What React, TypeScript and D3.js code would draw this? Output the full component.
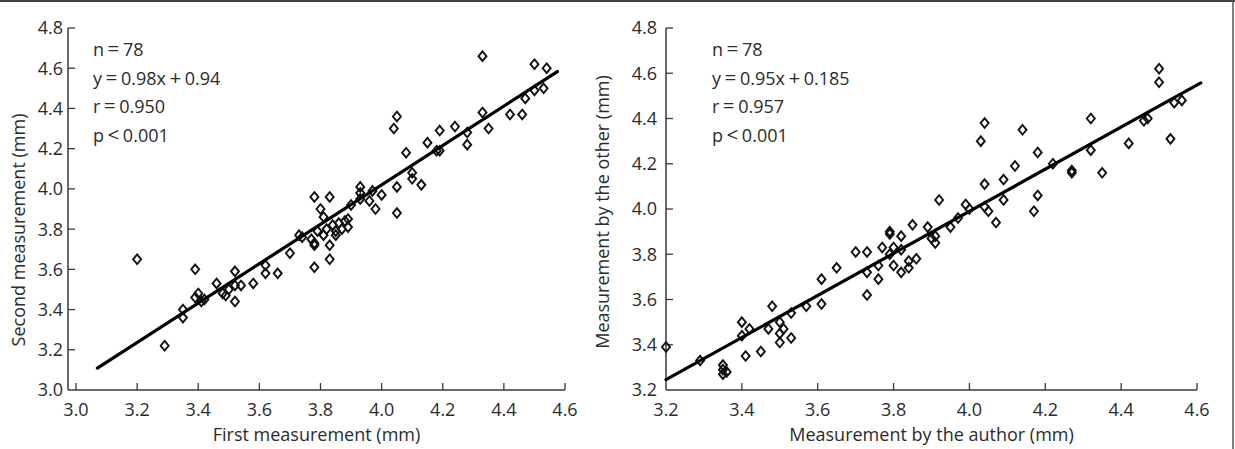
import React from "react";
import * as d3 from "d3";

// ---------- data ----------
const leftFirst = [3.2, 3.29, 3.35, 3.35, 3.39, 3.4, 3.39, 3.42, 3.46, 3.48, 3.49, 3.52, 3.52, 3.52, 3.54, 3.58, 3.62, 3.62, 3.66, 3.7, 3.73, 3.77, 3.78, 3.78, 3.83, 3.83, 3.78, 3.81, 3.85, 3.89, 3.89, 3.86, 3.79, 3.78, 3.83, 3.8, 3.81, 3.84, 3.87, 3.93, 3.93, 3.93, 3.96, 3.98, 4.0, 4.05, 4.05, 4.1, 4.1, 4.13, 4.04, 4.05, 4.08, 4.15, 4.18, 4.19, 4.24, 4.28, 4.28, 4.33, 4.35, 4.33, 4.42, 4.46, 4.47, 4.5, 4.53, 4.5, 4.54, 3.41, 3.5, 3.74, 3.85, 3.9, 4.19, 3.97, 3.82, 3.88];
const leftSecond = [3.65, 3.22, 3.4, 3.36, 3.6, 3.48, 3.46, 3.45, 3.53, 3.48, 3.47, 3.59, 3.44, 3.52, 3.52, 3.53, 3.62, 3.58, 3.58, 3.68, 3.77, 3.75, 3.73, 3.61, 3.65, 3.72, 3.72, 3.77, 3.77, 3.81, 3.85, 3.83, 3.79, 3.96, 3.96, 3.9, 3.86, 3.82, 3.8, 4.01, 3.98, 3.95, 3.94, 3.9, 3.97, 3.88, 4.01, 4.08, 4.05, 4.02, 4.3, 4.36, 4.18, 4.23, 4.19, 4.29, 4.31, 4.28, 4.22, 4.38, 4.3, 4.66, 4.37, 4.37, 4.45, 4.49, 4.5, 4.62, 4.6, 3.44, 3.5, 3.76, 3.79, 3.92, 4.19, 3.99, 3.8, 3.84];
const rightAuthor = [3.2, 3.29, 3.35, 3.35, 3.35, 3.4, 3.4, 3.41, 3.42, 3.45, 3.48, 3.47, 3.5, 3.5, 3.5, 3.53, 3.53, 3.57, 3.61, 3.61, 3.65, 3.7, 3.73, 3.73, 3.73, 3.76, 3.76, 3.77, 3.79, 3.79, 3.8, 3.8, 3.82, 3.82, 3.82, 3.84, 3.84, 3.85, 3.89, 3.91, 3.91, 3.95, 4.07, 3.92, 3.97, 3.99, 4.04, 4.03, 4.04, 4.05, 4.04, 4.09, 4.09, 4.12, 4.14, 4.17, 4.18, 4.18, 4.22, 4.27, 4.27, 4.32, 4.32, 4.35, 4.42, 4.46, 4.47, 4.5, 4.5, 4.53, 4.54, 4.56, 3.36, 3.51, 3.79, 3.86, 3.9, 4.0];
const rightOther = [3.39, 3.33, 3.31, 3.29, 3.27, 3.5, 3.44, 3.35, 3.47, 3.37, 3.57, 3.47, 3.5, 3.45, 3.41, 3.43, 3.54, 3.57, 3.58, 3.69, 3.74, 3.81, 3.81, 3.72, 3.62, 3.75, 3.69, 3.83, 3.9, 3.89, 3.83, 3.75, 3.88, 3.82, 3.72, 3.77, 3.74, 3.93, 3.92, 3.88, 3.85, 3.92, 3.94, 4.04, 3.96, 4.02, 4.11, 4.3, 4.38, 3.99, 4.01, 4.13, 4.04, 4.19, 4.35, 3.99, 4.06, 4.25, 4.2, 4.17, 4.16, 4.4, 4.26, 4.16, 4.29, 4.39, 4.4, 4.62, 4.56, 4.31, 4.47, 4.48, 3.28, 3.47, 3.8, 3.78, 3.87, 4.0];

const leftXTicks = [3.0, 3.2, 3.4, 3.6, 3.8, 4.0, 4.2, 4.4, 4.6];
const leftYTicks = [3.0, 3.2, 3.4, 3.6, 3.8, 4.0, 4.2, 4.4, 4.6, 4.8];
const rightXTicks = [3.2, 3.4, 3.6, 3.8, 4.0, 4.2, 4.4, 4.6];
const rightYTicks = [3.2, 3.4, 3.6, 3.8, 4.0, 4.2, 4.4, 4.6, 4.8];

// fitted line: [slope, intercept], [xStart, xEnd]
const leftFit = [0.98, 0.1];
const leftFitRange = [3.07, 4.575];
const rightFit = [0.93, 0.27];
const rightFitRange = [3.2, 4.61];

const leftStats = ["n=78", "y=0.98x+0.94", "r=0.950", "p<0.001"];
const rightStats = ["n=78", "y=0.95x+0.185", "r=0.957", "p<0.001"];

// ---------- drawing ----------
const FONT = "'Open Sans', sans-serif";
const FS = 18;
const TXT = "#2b2b2b";
const AX = "#3a3a3a";

function StatText({ lines, x, y0, dy }: { lines: string[]; x: number; y0: number; dy: number }) {
  return (
    <g>
      {lines.map((s, li) => {
        const parts = s.split(/([=+<])/).filter((p) => p !== "");
        const isSym = (p: string) => p === "=" || p === "+" || p === "<";
        return (
          <text key={li} x={x} y={y0 + li * dy} fontFamily={FONT} fontSize={FS} fill={TXT}>
            {parts.map((p, i) => (
              <tspan key={i} dx={isSym(p) ? 3.5 : i > 0 && isSym(parts[i - 1]) ? 3.5 : 0}
                fontSize={isSym(p) ? FS * 1.15 : FS}>
                {p}
              </tspan>
            ))}
          </text>
        );
      })}
    </g>
  );
}

const diamond = "M0,-4.8L4,0L0,4.8L-4,0Z";

function Panel(props: {
  xs: number[]; ys: number[];
  xDomain: [number, number]; xRange: [number, number];
  yDomain: [number, number]; yRange: [number, number];
  axisX0: number;
  xTicks: number[]; yTicks: number[];
  fit: number[]; fitRange: number[];
  yLabelGap: number;
  xTitle: string; yTitle: string; yTitleX: number; yTitleY: number;
  stats: string[]; statX: number;
}) {
  const x = d3.scaleLinear().domain(props.xDomain).range(props.xRange);
  const y = d3.scaleLinear().domain(props.yDomain).range(props.yRange);
  const fmt = d3.format(".1f");
  const line = d3.line<number>().x((v) => x(v)).y((v) => y(props.fit[0] * v + props.fit[1]));
  const y0 = y(props.yDomain[0]);
  const xEnd = props.xRange[1];
  const x0 = props.axisX0;
  return (
    <g>
      {/* axes */}
      <line x1={x0} x2={xEnd} y1={y0} y2={y0} stroke={AX} strokeWidth={1.5} />
      <line x1={x0} x2={x0} y1={y0} y2={y(props.yDomain[1])} stroke={AX} strokeWidth={1.5} />
      {props.xTicks.map((t) => (
        <g key={"xt" + t}>
          {x(t) > x0 + 2 && <line x1={x(t)} x2={x(t)} y1={y0} y2={y0 - 7} stroke={AX} strokeWidth={1.3} />}
          <text x={x(t)} y={y0 + 26} textAnchor="middle" fontFamily={FONT} fontSize={FS} fill={TXT}>{fmt(t)}</text>
        </g>
      ))}
      {props.yTicks.map((t) => (
        <g key={"yt" + t}>
          {y(t) < y0 - 2 && <line x1={x0} x2={x0 + 7} y1={y(t)} y2={y(t)} stroke={AX} strokeWidth={1.3} />}
          <text x={x0 - props.yLabelGap} y={y(t)} dy="0.36em" textAnchor="end" fontFamily={FONT} fontSize={FS} fill={TXT}>{fmt(t)}</text>
        </g>
      ))}
      {/* points */}
      {props.xs.map((v, i) => (
        <path key={"p" + i} d={diamond} transform={`translate(${x(v)},${y(props.ys[i])})`}
          fill="none" stroke="#111" strokeWidth={1.9} />
      ))}
      {/* regression line */}
      <path d={line(props.fitRange) || ""} fill="none" stroke="#000" strokeWidth={3.2} strokeLinecap="round" />
      {/* titles */}
      <text x={(x0 + xEnd) / 2} y={y0 + 51} textAnchor="middle" fontFamily={FONT} fontSize={FS} fill={TXT}>{props.xTitle}</text>
      <text transform={`translate(${props.yTitleX},${props.yTitleY}) rotate(-90)`} textAnchor="middle"
        fontFamily={FONT} fontSize={FS} fill={TXT}>{props.yTitle}</text>
      <StatText lines={props.stats} x={props.statX} y0={56} dy={28.5} />
    </g>
  );
}

export default function App() {
  return (
    <svg width={1235} height={449} style={{ position: "absolute", left: 0, top: 0, background: "#fff" }}>
      <rect x={0} y={0} width={1235} height={449} fill="#fff" />
      <line x1={0} x2={1235} y1={1} y2={1} stroke="#444" strokeWidth={2} />
      <line x1={1233} x2={1233} y1={0} y2={449} stroke="#555" strokeWidth={1.5} />
      <Panel xs={leftFirst} ys={leftSecond}
        xDomain={[3.0, 4.6]} xRange={[76, 565]} yDomain={[3.0, 4.8]} yRange={[390, 28]}
        axisX0={68} xTicks={leftXTicks} yTicks={leftYTicks}
        fit={leftFit} fitRange={leftFitRange} yLabelGap={5}
        xTitle="First measurement (mm)" yTitle="Second measurement (mm)" yTitleX={25} yTitleY={230}
        stats={leftStats} statX={93} />
      <Panel xs={rightAuthor} ys={rightOther}
        xDomain={[3.2, 4.6]} xRange={[666, 1197]} yDomain={[3.2, 4.8]} yRange={[390, 28]}
        axisX0={666} xTicks={rightXTicks} yTicks={rightYTicks}
        fit={rightFit} fitRange={rightFitRange} yLabelGap={9}
        xTitle="Measurement by the author (mm)" yTitle="Measurement by the other (mm)" yTitleX={609} yTitleY={212}
        stats={rightStats} statX={712} />
    </svg>
  );
}
